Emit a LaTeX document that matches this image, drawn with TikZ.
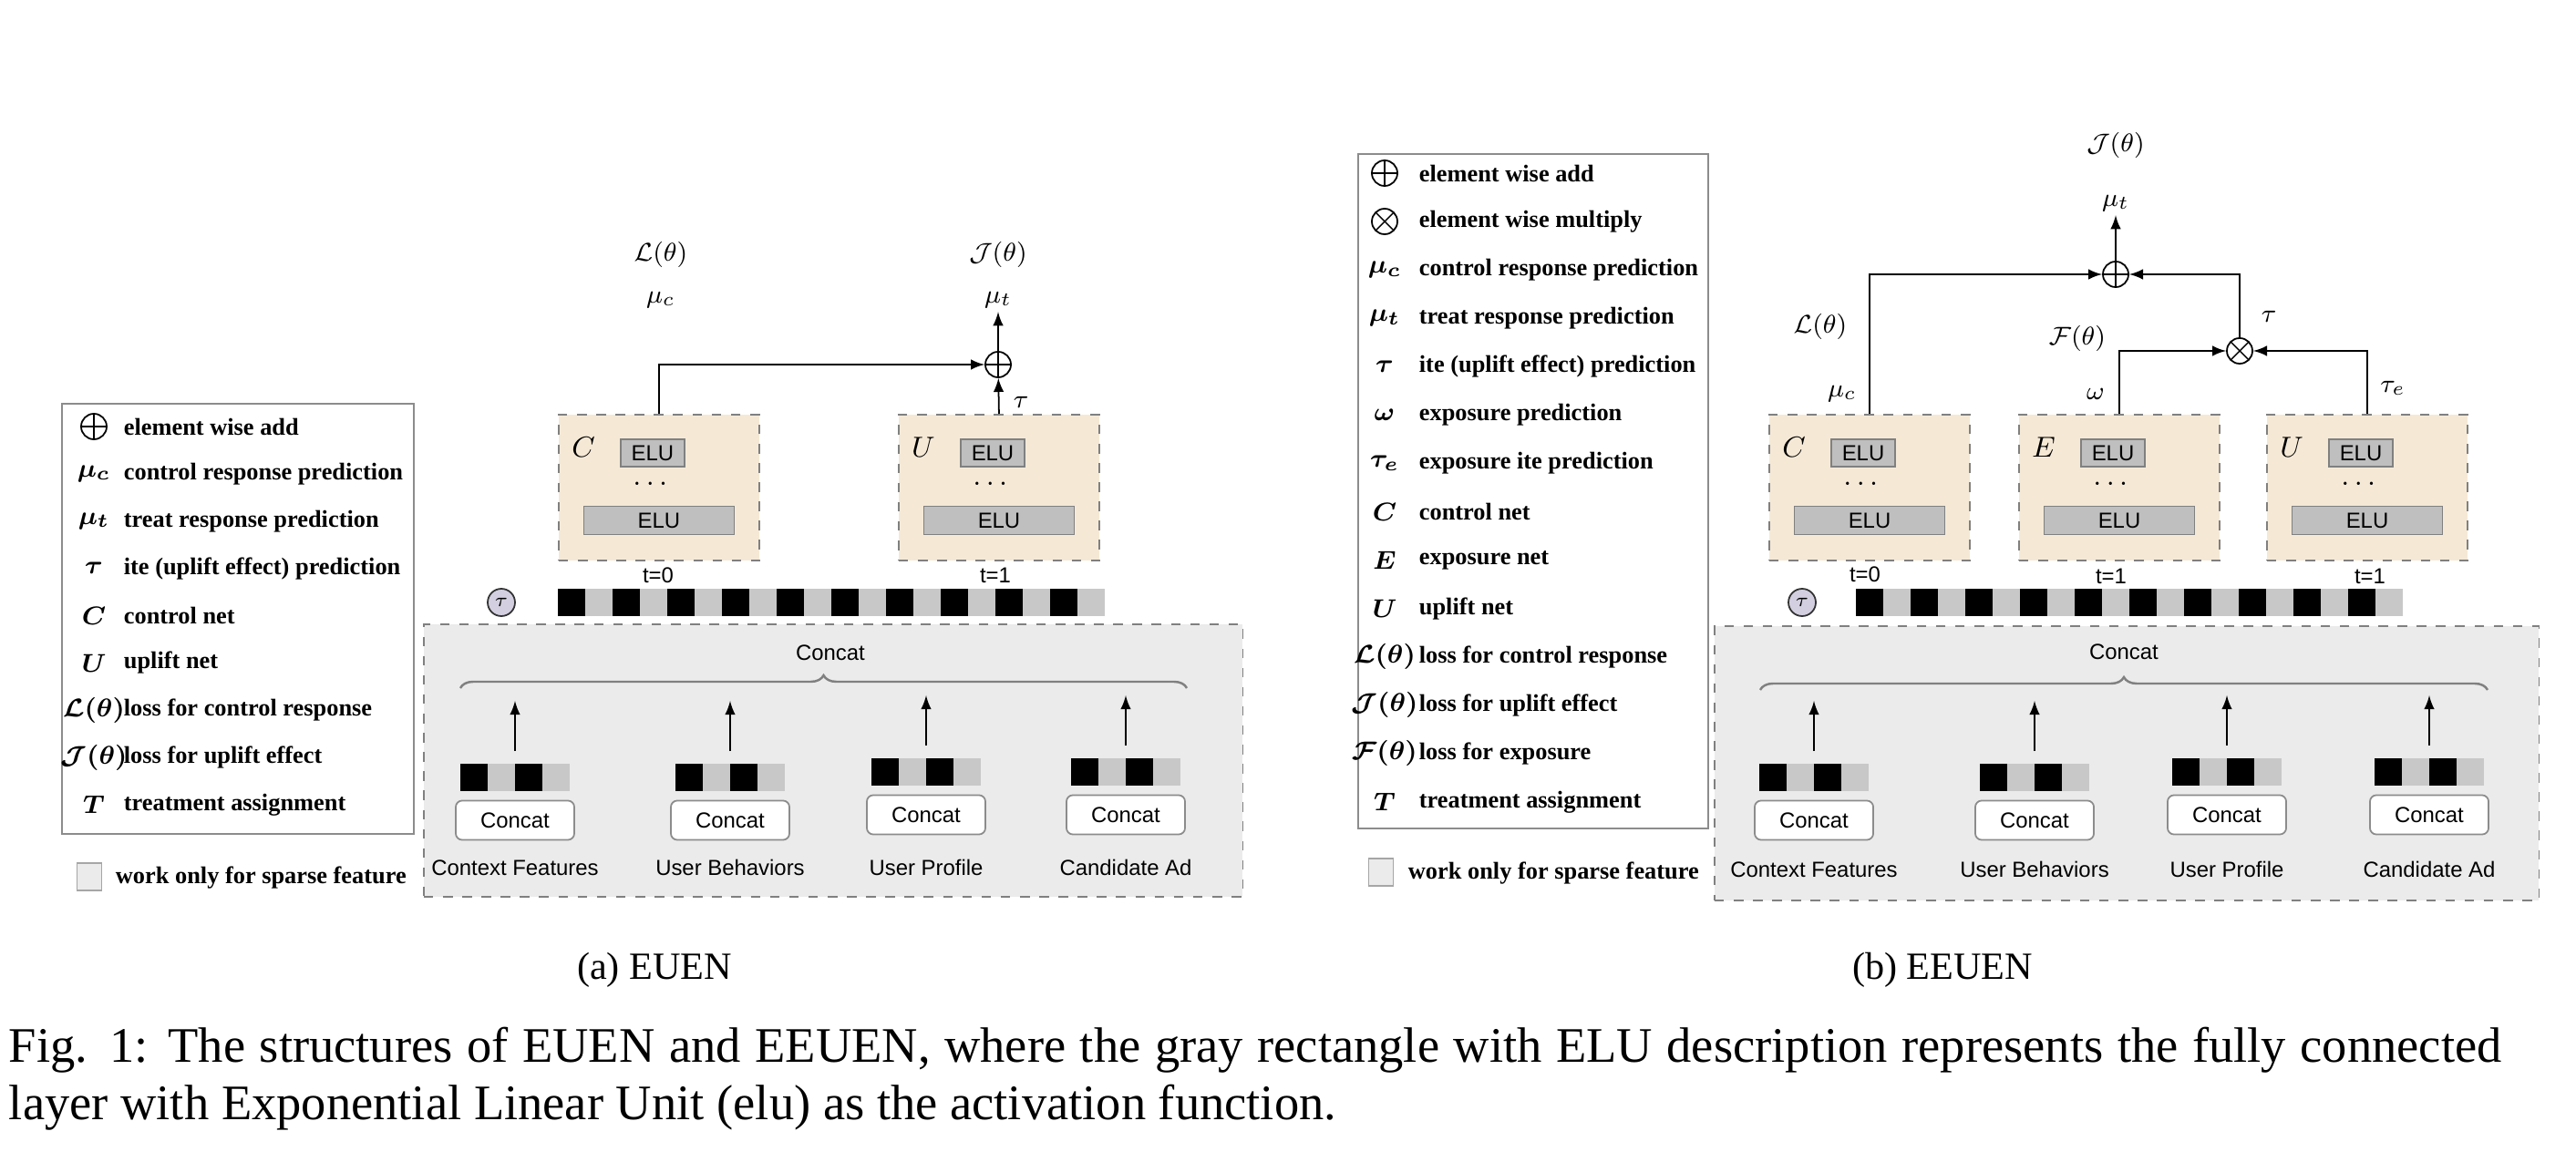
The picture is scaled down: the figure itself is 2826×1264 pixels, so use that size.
\documentclass[tikz,border=0pt]{standalone}
\usepackage{fontspec}
\setmainfont{Liberation Serif}
\setsansfont{Liberation Sans}
\usepackage{amsmath}
\usepackage{amssymb}
\usepackage{tikz}
\usetikzlibrary{arrows,positioning,decorations.pathreplacing}
\definecolor{netfill}{HTML}{F5E9D6}
\definecolor{elufill}{HTML}{BFBFBF}
\definecolor{cellgray}{HTML}{C8C8C8}
\definecolor{panelfill}{HTML}{EBEBEB}
\definecolor{taufill}{HTML}{D3CFE0}
\tikzset
{
    netbox/.style     = {rectangle, draw=black!50, dashed, fill=netfill, minimum width=2.2cm, minimum height=1.6cm, anchor=north west},
    netname/.style    = {inner sep=0pt, font=\fontsize{9}{9}\selectfont},
    elusmall/.style   = {rectangle, draw=black!50, fill=elufill, minimum width=0.7cm, minimum height=0.3cm, inner sep=0pt, font=\sffamily\fontsize{6.8}{7}\selectfont},
    elubig/.style     = {elusmall, minimum width=1.65cm, minimum height=0.31cm},
    addnode/.style    = {circle, draw=black, minimum size=0.28cm, inner sep=0pt, path picture={\draw[line width=0.4pt] (path picture bounding box.north) -- (path picture bounding box.south) (path picture bounding box.west) -- (path picture bounding box.east);}},
    mulnode/.style    = {circle, draw=black, minimum size=0.28cm, inner sep=0pt, path picture={\draw[line width=0.4pt] (path picture bounding box.north west) -- (path picture bounding box.south east) (path picture bounding box.north east) -- (path picture bounding box.south west);}},
    taunode/.style    = {circle, draw=black!80, fill=taufill, minimum size=0.3cm, inner sep=0pt, font=\fontsize{6}{6}\selectfont},
    panelbox/.style   = {rectangle, draw=black!50, dashed, fill=panelfill, anchor=north west},
    legendbox/.style  = {rectangle, draw=black!45, anchor=north west},
    legtext/.style    = {anchor=west, inner sep=0pt, font=\fontsize{7.5}{9}\selectfont\bfseries},
    legsym/.style     = {inner sep=0pt, font=\fontsize{8}{9}\selectfont},
    sparsebox/.style  = {rectangle, draw=black!35, fill=panelfill, minimum width=0.27cm, minimum height=0.3cm, inner sep=0pt},
    concatbox/.style  = {rectangle, rounded corners=0.07cm, draw=black!45, fill=white, minimum width=1.3cm, minimum height=0.43cm, inner sep=0pt, font=\sffamily\fontsize{6.8}{7}\selectfont},
    sanslabel/.style  = {inner sep=0pt, font=\sffamily\fontsize{6.8}{7}\selectfont},
    mathlabel/.style  = {inner sep=1pt, font=\fontsize{8}{9}\selectfont},
    concatbrace/.style = {decorate, decoration={brace, amplitude=0.14cm}, draw=black!50, line width=0.7pt}
}
% black / gray cells of an embedding: left x, top y, number of pairs
\newcommand{\cellstrip}[3]{%
    \foreach \k in {1,...,#3}
    {
        \fill[black] ({#1+60*(\k-1)},#2) rectangle ++(30,30);
        \fill[cellgray] ({#1+60*(\k-1)+30},#2) rectangle ++(30,30);
    }
}
% one tower: name, left x, letter
\newcommand{\netblock}[3]{%
    \node[netbox] (#1) at (#2,454) {};
    \node[netname] (#1-name) at ({#2+28},491) {$#3$};
    \node[elusmall] (#1-first) at ({#2+104},497) {ELU};
    \node[netname] (#1-dots) at ({#2+104},531) {$\dots$};
    \node[elubig] (#1-last) at ({#2+111},571) {ELU};
}

\begin{document}
\begin{tikzpicture}[x=0.01cm, y=-0.01cm, line width=0.5pt]
    \useasboundingbox (0,0) rectangle (2826,1264);

    % ---------------- (a) EUEN ----------------
    % legend
    \node[legendbox, minimum width=3.86cm, minimum height=4.72cm] (legA) at (67,442) {};
    \node[addnode] (legA-s1) at (103,468) {};
    \node[legtext] (legA-t1) at (135,468) {element wise add};
    \foreach \sym/\txt [count=\i from 2] in {\mu_c/control response prediction, \mu_t/treat response prediction, \tau/ite (uplift effect) prediction, C/control net, U/uplift net, \mathcal{L}(\theta)/loss for control response, \mathcal{J}(\theta)/loss for uplift effect, T/treatment assignment}
    {
        \node[legsym] (legA-s\i) at (103,{468+51.9*(\i-1)}) {$\boldsymbol{\sym}$};
        \node[legtext] (legA-t\i) at (135,{468+51.9*(\i-1)}) {\txt};
    }
    \node[sparsebox] (spA) at (98,962) {};
    \node[legtext] (spA-t) at (126,963) {work only for sparse feature};

    % inputs
    \node[panelbox, minimum width=8.98cm, minimum height=2.99cm] (inA) at (464,684) {};
    \node[sanslabel] (catA) at (911,716) {Concat};
    \coordinate (brA-l) at (505,755);
    \coordinate (brA-r) at (1302,755);
    \draw[concatbrace] (brA-l) -- (brA-r);
    \foreach \cx/\cy/\lab [count=\i] in {565/838/Context Features, 801/838/User Behaviors, 1016/832/User Profile, 1235/832/Candidate Ad}
    {
        \cellstrip{\cx-60}{\cy}{2}
        \node[concatbox] (ccA\i) at (\cx,{\cy+62}) {Concat};
        \node[sanslabel] (ftA\i) at (\cx,952) {\lab};
        \coordinate (srcA\i) at (\cx,{\cy-14});
        \coordinate (dstA\i) at (\cx,{\cy-69});
        \draw[-latex] (srcA\i) -- (dstA\i);
    }

    % treatment and shared embedding
    \node[taunode] (tauA) at (550,661) {$\tau$};
    \cellstrip{612}{646}{10}

    % towers
    \netblock{cA}{612}{C}
    \netblock{uA}{985}{U}
    \node[sanslabel] (tA0) at (722,631) {t=0};
    \node[sanslabel] (tA1) at (1092,631) {t=1};

    % outputs
    \node[addnode] (addA) at (1095,400) {};
    \node[mathlabel] (muA-t) at (1095,329) {$\mu_t$};
    \node[mathlabel] (lossA-j) at (1095,279) {$\mathcal{J}(\theta)$};
    \node[mathlabel] (muA-c) at (725,329) {$\mu_c$};
    \node[mathlabel] (lossA-l) at (725,279) {$\mathcal{L}(\theta)$};
    \node[mathlabel] (tauA-lab) at (1120,441) {$\tau$};
    \draw[-latex] (cA.north) |- (addA);
    \draw[-latex] (uA.north) -- (addA);
    \draw[-latex] (addA) -- (muA-t);

    % ---------------- (b) EEUEN ----------------
    % legend
    \node[legendbox, minimum width=3.84cm, minimum height=7.4cm] (legB) at (1489,168) {};
    \node[addnode] (legB-s1) at (1519,190) {};
    \node[legtext] (legB-t1) at (1556,190) {element wise add};
    \node[mulnode] (legB-s2) at (1519,243) {};
    \node[legtext] (legB-t2) at (1556,243) {element wise multiply};
    \foreach \sym/\txt [count=\i from 3] in {\mu_c/control response prediction, \mu_t/treat response prediction, \tau/ite (uplift effect) prediction, \omega/exposure prediction, \tau_e/exposure ite prediction, C/control net, E/exposure net, U/uplift net, \mathcal{L}(\theta)/loss for control response, \mathcal{J}(\theta)/loss for uplift effect, \mathcal{F}(\theta)/loss for exposure, T/treatment assignment}
    {
        \node[legsym] (legB-s\i) at (1519,{190+53.08*(\i-1)}) {$\boldsymbol{\sym}$};
        \node[legtext] (legB-t\i) at (1556,{190+53.08*(\i-1)}) {\txt};
    }
    \node[sparsebox] (spB) at (1515,957) {};
    \node[legtext] (spB-t) at (1544,958) {work only for sparse feature};

    % inputs
    \node[panelbox, minimum width=9.04cm, minimum height=3.01cm] (inB) at (1880,686) {};
    \node[sanslabel] (catB) at (2330,715) {Concat};
    \coordinate (brB-l) at (1931,757);
    \coordinate (brB-r) at (2729,757);
    \draw[concatbrace] (brB-l) -- (brB-r);
    \foreach \cx/\cy/\lab [count=\i] in {1990/838/Context Features, 2232/838/User Behaviors, 2443/832/User Profile, 2665/832/Candidate Ad}
    {
        \cellstrip{\cx-60}{\cy}{2}
        \node[concatbox] (ccB\i) at (\cx,{\cy+62}) {Concat};
        \node[sanslabel] (ftB\i) at (\cx,954) {\lab};
        \coordinate (srcB\i) at (\cx,{\cy-14});
        \coordinate (dstB\i) at (\cx,{\cy-69});
        \draw[-latex] (srcB\i) -- (dstB\i);
    }

    % treatment and shared embedding
    \node[taunode] (tauB) at (1977,661) {$\tau$};
    \cellstrip{2036}{646}{10}

    % towers
    \netblock{cB}{1940}{C}
    \netblock{eB}{2214}{E}
    \netblock{uB}{2486}{U}
    \node[sanslabel] (tB0) at (2046,630) {t=0};
    \node[sanslabel] (tB1) at (2316,632) {t=1};
    \node[sanslabel] (tB2) at (2600,632) {t=1};

    % outputs
    \node[addnode] (addB) at (2321,301) {};
    \node[mulnode] (mulB) at (2457,385) {};
    \node[mathlabel] (muB-t) at (2321,223) {$\mu_t$};
    \node[mathlabel] (lossB-j) at (2321,159) {$\mathcal{J}(\theta)$};
    \node[mathlabel] (lossB-l) at (1997,358) {$\mathcal{L}(\theta)$};
    \node[mathlabel] (muB-c) at (2021,432) {$\mu_c$};
    \node[mathlabel] (lossB-f) at (2279,371) {$\mathcal{F}(\theta)$};
    \node[mathlabel] (omB) at (2299,432) {$\omega$};
    \node[mathlabel] (tauB-lab) at (2489,347) {$\tau$};
    \node[mathlabel] (taueB) at (2625,426) {$\tau_e$};
    \draw[-latex] (cB.north) |- (addB);
    \draw[-latex] (mulB) |- (addB);
    \draw[-latex] (eB.north) |- (mulB);
    \draw[-latex] (uB.north) |- (mulB);
    \draw[-latex] (addB) -- (muB-t);

    % ---------------- captions ----------------
    \node[anchor=base, inner sep=0pt, font=\fontsize{12}{14}\selectfont] (capA) at (718,1074) {(a) EUEN};
    \node[anchor=base, inner sep=0pt, font=\fontsize{12}{14}\selectfont] (capB) at (2131,1074) {(b) EEUEN};
    \node[anchor=base west, inner sep=0pt, font=\fontsize{15.5}{18}\selectfont] (capL1) at (9,1165) {\makebox[27.33cm][s]{Fig. 1: The structures of EUEN and EEUEN, where the gray rectangle with ELU description represents the fully connected}};
    \node[anchor=base west, inner sep=0pt, font=\fontsize{15.5}{18}\selectfont] (capL2) at (9,1228) {layer with Exponential Linear Unit (elu) as the activation function.};
\end{tikzpicture}
\end{document}
